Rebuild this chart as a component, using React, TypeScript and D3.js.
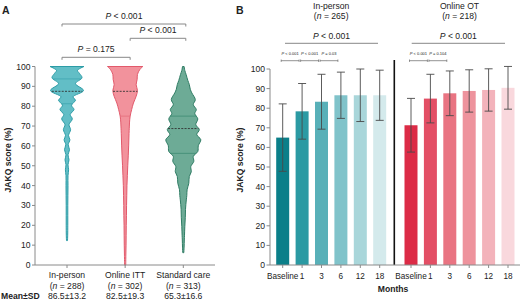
import React from "react";
import * as d3 from "d3";

// ---------- Panel A data ----------
const violinGroups = ["In-person", "Online ITT", "Standard care"];
const violinN = ["288", "302", "313"];
const violinMeanSD = ["86.5±13.2", "82.5±19.3", "65.3±16.6"];
const violinMedian = [87.5, 87.5, 68.75];
const violinQ1 = [81.25, 75, 56.25];
const violinQ3 = [93.75, 100, 75];

// density profiles (score, relative density)
const inPersonScores = [100, 98, 96.5, 94.3, 91.4, 87.9, 84.7, 83, 80.5, 78.3, 75.8, 73.6, 70.7, 68.2, 65.2, 63.1, 60.6, 58.1, 55.5, 53, 50.5, 48, 45, 40, 35, 30, 25, 20, 15, 12.3];
const inPersonDensity = [17, 10.5, 12.5, 15, 8.5, 16.5, 6, 8.5, 4.5, 7, 3.2, 5.3, 2, 3.6, 1.5, 2.9, 1.2, 2.5, 1, 2, 1, 1.6, 1, 1, 0.9, 0.8, 0.8, 0.8, 0.7, 0.5];

const onlineScores = [100, 98.5, 96, 93.5, 90.8, 87.9, 85, 81.6, 78.3, 75, 72, 70, 65, 60, 55, 50, 45, 40, 35, 30, 25, 20, 15, 10, 5, 0];
const onlineDensity = [17.7, 14.7, 12.3, 12, 11, 12.3, 11, 8.3, 6.5, 5, 4.4, 4.2, 3.8, 3.5, 3.1, 2.6, 2.2, 1.8, 1.6, 1.4, 1.3, 1.1, 1, 0.9, 0.7, 0.6];

const standardScores = [100, 98, 96, 93, 90.9, 88.5, 86.7, 83.3, 80.8, 78.3, 76.3, 73.6, 70.7, 68.2, 65.7, 63.1, 60.1, 57.2, 54.7, 52.2, 49.6, 47, 44.6, 41.2, 37.9, 35, 32.8, 28, 24, 19.3, 15, 12.6, 9, 6.2];
const standardDensity = [0.8, 1.5, 2.8, 4.5, 6, 7, 8.5, 12, 10, 13, 11.5, 14.5, 12.5, 16, 13.5, 17.5, 15, 14.5, 10, 10.5, 7.5, 8, 6, 5.5, 3.8, 3.5, 3, 2.2, 2, 1.5, 1.2, 1, 0.8, 0.5];

const violinProfiles = [
  { scores: inPersonScores, density: inPersonDensity },
  { scores: onlineScores, density: onlineDensity },
  { scores: standardScores, density: standardDensity },
];
const violinFill = ["#62bec6", "#f2929c", "#6dab96"];
const violinStroke = ["#2c9ca6", "#e2596b", "#2f7c64"];
const violinQuartile = ["#3fa6b0", "#e4707e", "#3f8a72"];

const yTicks = [0, 10, 20, 30, 40, 50, 60, 70, 80, 90, 100];

const aBrackets = [
  { from: 0, to: 2, label: "< 0.001", level: 0 },
  { from: 1, to: 2, label: "< 0.001", level: 1 },
  { from: 0, to: 1, label: "= 0.175", level: 2 },
];

// ---------- Panel B data ----------
const months = ["Baseline", "1", "3", "6", "12", "18"];
const inPersonMean = [65, 78.4, 83.3, 86.6, 86.6, 86.6];
const inPersonSD = [17.2, 14.2, 14, 11.8, 13.4, 12.8];
const onlineMean = [71.3, 84.9, 87.6, 88.8, 89.3, 90.4];
const onlineSD = [13.7, 12.4, 11.4, 10.8, 10.8, 10.9];
const inPersonColors = ["#0b7f89", "#2b9aa3", "#58b0b8", "#80c3ca", "#a9d6da", "#d4eaec"];
const onlineColors = ["#dc2b46", "#e34f65", "#e97482", "#ee939d", "#f3b3bb", "#f9d8dd"];
const inPersonPairs: [number, number, string][] = [[0, 1, "< 0.001"], [1, 2, "< 0.001"], [2, 3, "= 0.03"]];
const onlinePairs: [number, number, string][] = [[0, 1, "< 0.001"], [1, 2, "= 0.104"]];

const FONT = "'Liberation Sans', Arial, Helvetica, sans-serif";
const TXT = "#222";
const AXIS = "#8a8a8a";

export default function App() {
  // Panel A scales
  const yA = d3.scaleLinear().domain([0, 100]).range([265, 66.5]);
  const xA = d3.scalePoint<string>().domain(violinGroups).range([67, 183.3]);
  const wA = d3.scaleLinear().domain([0, 17.7]).range([0, 17.7]);

  // Panel B scales
  const yB = d3.scaleLinear().domain([0, 100]).range([265, 69]);
  const xB1 = d3.scaleBand<string>().domain(months).range([273, 389.4]).paddingInner(0.33).paddingOuter(0.165);
  const xB2 = d3.scaleBand<string>().domain(months).range([401.3, 517.7]).paddingInner(0.33).paddingOuter(0.165);

  const violins = violinGroups.map((g, i) => {
    const cx = xA(g)!;
    const prof = violinProfiles[i];
    const pts: [number, number][] = prof.scores.map((s, k) => [s, prof.density[k]]);
    const area = d3
      .area<[number, number]>()
      .y((d) => yA(d[0]))
      .x0((d) => cx - wA(d[1]))
      .x1((d) => cx + wA(d[1]))
      .curve(d3.curveCatmullRom);
    const interp = d3.scaleLinear().domain(prof.scores).range(prof.density).clamp(true);
    const qLine = (v: number, key: string, dashed: boolean) => {
      const hw = wA(interp(v));
      return (
        <line
          key={key}
          x1={cx - hw}
          x2={cx + hw}
          y1={yA(v)}
          y2={yA(v)}
          stroke={dashed ? "#333" : violinQuartile[i]}
          strokeWidth={dashed ? 0.9 : 0.8}
          strokeDasharray={dashed ? "2,1.3" : undefined}
        />
      );
    };
    return (
      <g key={g}>
        <path d={area(pts) || ""} fill={violinFill[i]} stroke={violinStroke[i]} strokeWidth={1} />
        {qLine(violinQ1[i], "q1", false)}
        {violinQ3[i] < 100 ? qLine(violinQ3[i], "q3", false) : null}
        {qLine(violinMedian[i], "med", true)}
      </g>
    );
  });

  const bracketY = [24, 38.3, 57.3];
  const bracketOffsets = [-5, 5, 2.5];

  const Pitalic = (label: string, x: number, y: number, size: number, key?: string) => (
    <text key={key} x={x} y={y} textAnchor="middle" fontSize={size} fill={TXT}>
      <tspan fontStyle="italic">P</tspan>
      {" " + label}
    </text>
  );

  const barGroup = (
    xB: d3.ScaleBand<string>,
    means: number[],
    sds: number[],
    colors: string[],
    pairs: [number, number, string][]
  ) => {
    const bw = xB.bandwidth();
    return (
      <g>
        {months.map((m, i) => {
          const x = xB(m)!;
          const cx = x + bw / 2;
          const top = yB(means[i] + sds[i]);
          const bot = yB(means[i] - sds[i]);
          return (
            <g key={m}>
              <rect x={x} y={yB(means[i])} width={bw} height={yB(0) - yB(means[i])} fill={colors[i]} />
              <line x1={cx} x2={cx} y1={top} y2={bot} stroke="#4a4a4a" strokeWidth={0.9} />
              <line x1={cx - 4} x2={cx + 4} y1={top} y2={top} stroke="#4a4a4a" strokeWidth={0.9} />
              <line x1={cx - 4} x2={cx + 4} y1={bot} y2={bot} stroke="#4a4a4a" strokeWidth={0.9} />
              <line x1={cx} x2={cx} y1={265} y2={268} stroke={AXIS} strokeWidth={1} />
              <text x={cx} y={278.5} textAnchor="middle" fontSize={8.2} fill={TXT}>
                {m}
              </text>
            </g>
          );
        })}
        {pairs.map(([a, b, lab], k) => {
          const x1 = xB(months[a])! + bw / 2 - 1.5;
          const x2 = xB(months[b])! + bw / 2 - 3;
          return (
            <g key={k}>
              <line x1={x1} x2={x2} y1={60.7} y2={60.7} stroke="#666" strokeWidth={0.7} />
              <line x1={x1} x2={x1} y1={59.5} y2={61.9} stroke="#666" strokeWidth={0.7} />
              <line x1={x2} x2={x2} y1={59.5} y2={61.9} stroke="#666" strokeWidth={0.7} />
              {Pitalic(lab, (x1 + x2) / 2, 55, 4)}
            </g>
          );
        })}
      </g>
    );
  };

  const groupCenter1 = (xB1(months[0])! + xB1(months[5])! + xB1.bandwidth()) / 2;
  const groupCenter2 = (xB2(months[0])! + xB2(months[5])! + xB2.bandwidth()) / 2;

  return (
    <svg
      width={520}
      height={301}
      style={{ position: "absolute", left: 0, top: 0, background: "#fff" }}
      fontFamily={FONT}
    >
      <rect width={520} height={301} fill="#fff" />
      {/* Panel A */}
      <text x={2} y={14} fontSize={10.5} fontWeight="bold" fill={TXT}>A</text>
      {aBrackets.map((b, k) => {
        const x1 = xA(violinGroups[b.from])! + bracketOffsets[b.from === 0 ? 0 : 1];
        const x2 = xA(violinGroups[b.to])! + (b.to === 2 ? bracketOffsets[2] : bracketOffsets[1]);
        const y = bracketY[b.level];
        return (
          <g key={k}>
            <line x1={x1} x2={x2} y1={y} y2={y} stroke="#888" strokeWidth={1} />
            <line x1={x1} x2={x1} y1={y} y2={y + 2.5} stroke="#888" strokeWidth={1} />
            <line x1={x2} x2={x2} y1={y} y2={y + 2.5} stroke="#888" strokeWidth={1} />
            {Pitalic(b.label, (x1 + x2) / 2, y - 5, 8.6)}
          </g>
        );
      })}
      {/* y axis A */}
      <line x1={35} x2={35} y1={yA(100)} y2={yA(0)} stroke={AXIS} strokeWidth={1} />
      {yTicks.map((t) => (
        <g key={t}>
          <line x1={32} x2={35} y1={yA(t)} y2={yA(t)} stroke={AXIS} strokeWidth={1} />
          <text x={30.5} y={yA(t) + 3} textAnchor="end" fontSize={8.6} fill={TXT}>{t}</text>
        </g>
      ))}
      <text
        transform={`translate(11,${160}) rotate(-90)`}
        textAnchor="middle"
        fontSize={8.6}
        fontWeight="bold"
        fill={TXT}
      >
        JAKQ score (%)
      </text>
      {violins}
      {/* x axis A */}
      <line x1={35} x2={215} y1={265} y2={265} stroke={AXIS} strokeWidth={1} />
      {violinGroups.map((g, i) => (
        <g key={g}>
          <line x1={xA(g)!} x2={xA(g)!} y1={265} y2={268} stroke={AXIS} strokeWidth={1} />
          <text x={xA(g)!} y={278} textAnchor="middle" fontSize={8.6} fill={TXT}>{g}</text>
          <text x={xA(g)!} y={288.5} textAnchor="middle" fontSize={8.6} fill={TXT}>
            (<tspan fontStyle="italic">n</tspan> = {violinN[i]})
          </text>
          <text x={xA(g)!} y={298.5} textAnchor="middle" fontSize={8.6} fill={TXT}>{violinMeanSD[i]}</text>
        </g>
      ))}
      <text x={1} y={298.5} fontSize={8.6} fontWeight="bold" fill={TXT}>Mean±SD</text>

      {/* Panel B */}
      <text x={236} y={14} fontSize={10.5} fontWeight="bold" fill={TXT}>B</text>
      <text x={groupCenter1} y={9} textAnchor="middle" fontSize={8.6} fill={TXT}>In-person</text>
      <text x={groupCenter1} y={19} textAnchor="middle" fontSize={8.6} fill={TXT}>
        (<tspan fontStyle="italic">n</tspan> = 265)
      </text>
      <text x={groupCenter2} y={9} textAnchor="middle" fontSize={8.6} fill={TXT}>Online OT</text>
      <text x={groupCenter2} y={19} textAnchor="middle" fontSize={8.6} fill={TXT}>
        (<tspan fontStyle="italic">n</tspan> = 218)
      </text>
      <line x1={285} x2={378} y1={43.3} y2={43.3} stroke="#888" strokeWidth={1} />
      {Pitalic("< 0.001", 331.5, 39, 8.6)}
      <line x1={411.7} x2={505} y1={43.3} y2={43.3} stroke="#888" strokeWidth={1} />
      {Pitalic("< 0.001", 458.3, 39, 8.6)}

      <text
        transform={`translate(243,${160}) rotate(-90)`}
        textAnchor="middle"
        fontSize={8.6}
        fontWeight="bold"
        fill={TXT}
      >
        JAKQ score (%)
      </text>
      <line x1={270} x2={270} y1={yB(100)} y2={yB(0)} stroke={AXIS} strokeWidth={1} />
      {yTicks.map((t) => (
        <g key={t}>
          <line x1={266.5} x2={270} y1={yB(t)} y2={yB(t)} stroke={AXIS} strokeWidth={1} />
          <text x={265} y={yB(t) + 3} textAnchor="end" fontSize={8.6} fill={TXT}>{t}</text>
        </g>
      ))}
      {barGroup(xB1, inPersonMean, inPersonSD, inPersonColors, inPersonPairs)}
      {barGroup(xB2, onlineMean, onlineSD, onlineColors, onlinePairs)}
      <line x1={394.3} x2={394.3} y1={60} y2={265} stroke="#111" strokeWidth={1.6} />
      <line x1={270} x2={520} y1={265} y2={265} stroke={AXIS} strokeWidth={1} />
      <text x={393} y={292} textAnchor="middle" fontSize={8.6} fontWeight="bold" fill={TXT}>Months</text>
    </svg>
  );
}
